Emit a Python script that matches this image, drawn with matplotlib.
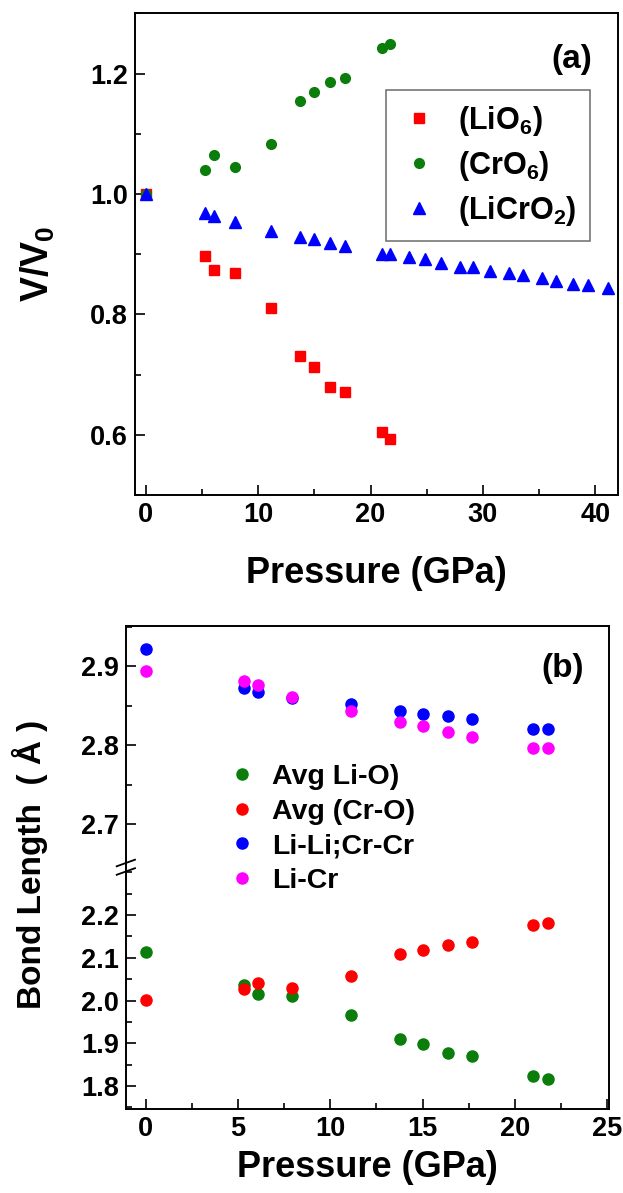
import matplotlib
matplotlib.use("Agg")
import matplotlib.pyplot as plt
from matplotlib.ticker import MultipleLocator
from matplotlib.lines import Line2D

plt.rcParams["font.family"] = ["Liberation Sans", "DejaVu Sans"]
plt.rcParams["font.weight"] = "bold"
plt.rcParams["axes.labelweight"] = "bold"
plt.rcParams["mathtext.fontset"] = "custom"
plt.rcParams["mathtext.rm"] = "Liberation Sans:bold"
plt.rcParams["mathtext.bf"] = "Liberation Sans:bold"
plt.rcParams["mathtext.default"] = "bf"

# ---- data, panel (a): relative volume vs pressure
pressure_a = [0, 5.3, 6.1, 7.9, 11.1, 13.75, 15.0, 16.4, 17.7, 21.0, 21.75]
lio6 = [1.0, 0.897, 0.874, 0.869, 0.811, 0.731, 0.712, 0.680, 0.671, 0.604, 0.593]
cro6 = [1.0, 1.040, 1.064, 1.044, 1.083, 1.155, 1.169, 1.186, 1.192, 1.243, 1.249]
pressure_licro2 = [0, 5.3, 6.1, 7.9, 11.1, 13.75, 15.0, 16.4, 17.7, 21.0, 21.75,
                   23.4, 24.8, 26.3, 28.0, 29.1, 30.6, 32.3, 33.6, 35.3, 36.5,
                   38.0, 39.4, 41.1]
licro2 = [1.0, 0.969, 0.964, 0.953, 0.939, 0.929, 0.925, 0.919, 0.913, 0.901, 0.901,
          0.895, 0.892, 0.886, 0.879, 0.878, 0.872, 0.868, 0.865, 0.861, 0.856,
          0.851, 0.849, 0.844]

# ---- data, panel (b): bond lengths vs pressure
pressure_b = [0, 5.3, 6.1, 7.9, 11.1, 13.8, 15.0, 16.4, 17.7, 21.0, 21.8]
li_o = [2.113, 2.036, 2.015, 2.011, 1.967, 1.910, 1.898, 1.877, 1.869, 1.824, 1.817]
cr_o = [2.001, 2.028, 2.042, 2.030, 2.057, 2.108, 2.119, 2.131, 2.137, 2.178, 2.182]
lili_crcr = [2.922, 2.873, 2.868, 2.860, 2.852, 2.843, 2.840, 2.837, 2.833, 2.821, 2.820]
li_cr = [2.894, 2.881, 2.876, 2.861, 2.843, 2.830, 2.824, 2.817, 2.811, 2.796, 2.796]

GREEN = "#0a7d0a"

fig = plt.figure(figsize=(6.23, 11.93), dpi=100)

W, H = 623.0, 1193.0


def box(l, t, r, b):
    return [l / W, 1 - b / H, (r - l) / W, (b - t) / H]


def style_ticks(ax):
    ax.tick_params(which="both", direction="in", top=False, right=False,
                   labelsize=19.5, width=1.2, pad=5)
    ax.tick_params(which="major", length=7)
    ax.tick_params(which="minor", length=4)
    for s in ax.spines.values():
        s.set_linewidth(1.4)


# ---- panel (a)
ax = fig.add_axes(box(134.7, 13.3, 617.7, 495))
ax.plot(pressure_a, lio6, ls="none", marker="s", ms=6.5, color="red", label="(LiO$_6$)")
ax.plot(pressure_a, cro6, ls="none", marker="o", ms=7, color=GREEN, label="(CrO$_6$)")
ax.plot(pressure_licro2, licro2, ls="none", marker="^", ms=8, color="blue",
        label="(LiCrO$_2$)")
ax.set_xlim(-1, 42)
ax.set_ylim(0.5, 1.3)
ax.xaxis.set_major_locator(MultipleLocator(10))
ax.xaxis.set_minor_locator(MultipleLocator(5))
ax.yaxis.set_minor_locator(MultipleLocator(0.1))
ax.set_yticks([0.6, 0.8, 1.0, 1.2])
style_ticks(ax)
ax.set_xlabel("Pressure (GPa)", fontsize=26, labelpad=20)
ax.set_ylabel("V/V$_0$", fontsize=27)
ax.yaxis.set_label_coords(-0.16, 0.48)
ax.text(0.905, 0.905, "(a)", transform=ax.transAxes, fontsize=24,
        ha="center", va="center")
leg = ax.legend(loc="upper left", bbox_to_anchor=(0.52, 0.84), fontsize=22,
                frameon=True, fancybox=False, edgecolor="#555555",
                handletextpad=0.6, labelspacing=0.35, borderpad=0.45,
                handlelength=1.3, borderaxespad=0)
leg.get_frame().set_linewidth(1.2)

# ---- panel (b), broken y axis
ax_hi = fig.add_axes(box(126, 626, 609, 863))
ax_lo = fig.add_axes(box(126, 863, 609, 1109))
for a in (ax_hi, ax_lo):
    a.plot(pressure_b, li_o, ls="none", marker="o", ms=8, color=GREEN)
    a.plot(pressure_b, cr_o, ls="none", marker="o", ms=8, color="red")
    a.plot(pressure_b, lili_crcr, ls="none", marker="o", ms=8, color="blue")
    a.plot(pressure_b, li_cr, ls="none", marker="o", ms=8, color="magenta")
    a.set_xlim(-1.07, 25.1)
    a.xaxis.set_major_locator(MultipleLocator(5))
    a.xaxis.set_minor_locator(MultipleLocator(2.5))
    style_ticks(a)

ax_hi.set_ylim(2.651, 2.951)
ax_hi.set_yticks([2.7, 2.8, 2.9])
ax_hi.yaxis.set_minor_locator(MultipleLocator(0.05))
ax_hi.spines["bottom"].set_visible(False)
ax_hi.tick_params(which="both", bottom=False, labelbottom=False)

ax_lo.set_ylim(1.746, 2.322)
ax_lo.set_yticks([1.8, 1.9, 2.0, 2.1, 2.2])
ax_lo.yaxis.set_minor_locator(MultipleLocator(0.05))
ax_lo.spines["top"].set_visible(False)
ax_lo.set_xlabel("Pressure (GPa)", fontsize=26, labelpad=6)

# break marks on the left spine
for dy in (0.0, 8.5):
    yc = 863 + dy
    fig.add_artist(Line2D([116.7 / W, 135 / W], [1 - (yc + 3.3) / H, 1 - (yc - 3.3) / H],
                          color="black", lw=1.3))

fig.text(30 / W, 1 - 864 / H, "Bond Length  ( Å )", rotation=90, fontsize=24,
         ha="center", va="center")
ax_hi.text(0.905, 0.82, "(b)", transform=ax_hi.transAxes, fontsize=24,
           ha="center", va="center")

handles = [Line2D([], [], ls="none", marker="o", ms=8, color=c)
           for c in (GREEN, "red", "blue", "magenta")]
labels = ["Avg Li-O)", "Avg (Cr-O)", "Li-Li;Cr-Cr", "Li-Cr"]
fig.legend(handles, labels, loc="upper left", bbox_to_anchor=(214 / W, 1 - 750 / H),
           fontsize=20.5, frameon=False, handletextpad=0.55, labelspacing=0.3,
           handlelength=1.0, borderpad=0)

fig.savefig("out.png", dpi=100)
